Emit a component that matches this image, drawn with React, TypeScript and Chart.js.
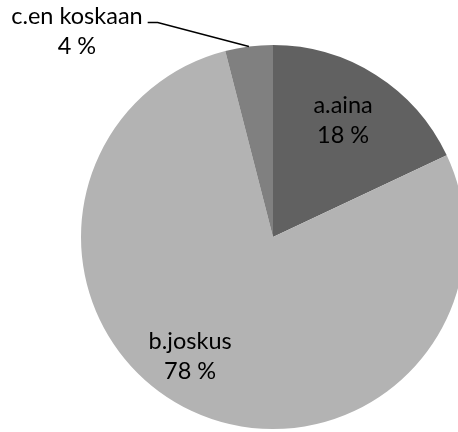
import React, { useEffect, useRef } from "react";
import { Chart, registerables } from "chart.js";

Chart.register(...registerables);

const categories = ["a.aina", "b.joskus", "c.en koskaan"];
const values = [18, 78, 4];
const percentLabels = ["18 %", "78 %", "4 %"];

const sliceColors = ["#616161", "#b3b3b3", "#808080"];
// label placement: offset from point at 0.72R on mid angle (inside) or from rim (outside)
const labelStyle = [
  { mode: "inside", dx: -4, dy: 0 },
  { mode: "inside", dx: -24, dy: -6 },
  { mode: "outside", dx: -172, dy: -15 },
];
const FONT = "23.5px Lato, 'Open Sans', sans-serif";
const LINE_GAP = 30;

const labelPlugin = {
  id: "pieLabels",
  afterDatasetsDraw(chart: any) {
    const ctx = chart.ctx;
    const meta = chart.getDatasetMeta(0);
    ctx.save();
    ctx.font = FONT;
    ctx.fillStyle = "#000";
    ctx.textAlign = "center";
    ctx.textBaseline = "middle";
    meta.data.forEach((arc: any, i: number) => {
      const { x, y, startAngle, endAngle, outerRadius } = arc.getProps(
        ["x", "y", "startAngle", "endAngle", "outerRadius"],
        true
      );
      const mid = (startAngle + endAngle) / 2;
      const st = labelStyle[i];
      let cx: number, cy: number;
      if (st.mode === "inside") {
        cx = x + Math.cos(mid) * outerRadius * 0.72 + st.dx;
        cy = y + Math.sin(mid) * outerRadius * 0.72 + st.dy;
      } else {
        const ex = x + Math.cos(mid) * outerRadius;
        const ey = y + Math.sin(mid) * outerRadius;
        cx = ex + st.dx;
        cy = ey + st.dy;
        const w = ctx.measureText(categories[i]).width;
        const right = cx + w / 2;
        const ly = cy - LINE_GAP / 2 + 6;
        ctx.strokeStyle = "#000";
        ctx.lineWidth = 1.5;
        ctx.beginPath();
        ctx.moveTo(ex, ey);
        ctx.lineTo(right + 15, ly);
        ctx.lineTo(right + 5, ly);
        ctx.stroke();
      }
      ctx.fillText(categories[i], cx, cy - LINE_GAP / 2);
      ctx.fillText(percentLabels[i], cx, cy + LINE_GAP / 2);
    });
    ctx.restore();
  },
};

export default function App() {
  const ref = useRef<HTMLCanvasElement>(null);
  useEffect(() => {
    if (!ref.current) return;
    const chart = new Chart(ref.current, {
      type: "pie",
      data: {
        labels: categories,
        datasets: [
          {
            data: values,
            backgroundColor: sliceColors,
            borderWidth: 0,
          },
        ],
      },
      options: {
        responsive: false,
        animation: false,
        layout: { padding: 45 },
        plugins: {
          legend: { display: false },
          tooltip: { enabled: false },
        },
      },
      plugins: [labelPlugin],
    });
    return () => chart.destroy();
  }, []);
  return (
    <div
      style={{
        position: "fixed",
        left: 0,
        top: 0,
        width: 458,
        height: 432,
        overflow: "hidden",
        background: "#fff",
      }}
    >
      <canvas ref={ref} width={546} height={474} style={{ display: "block" }} />
    </div>
  );
}
